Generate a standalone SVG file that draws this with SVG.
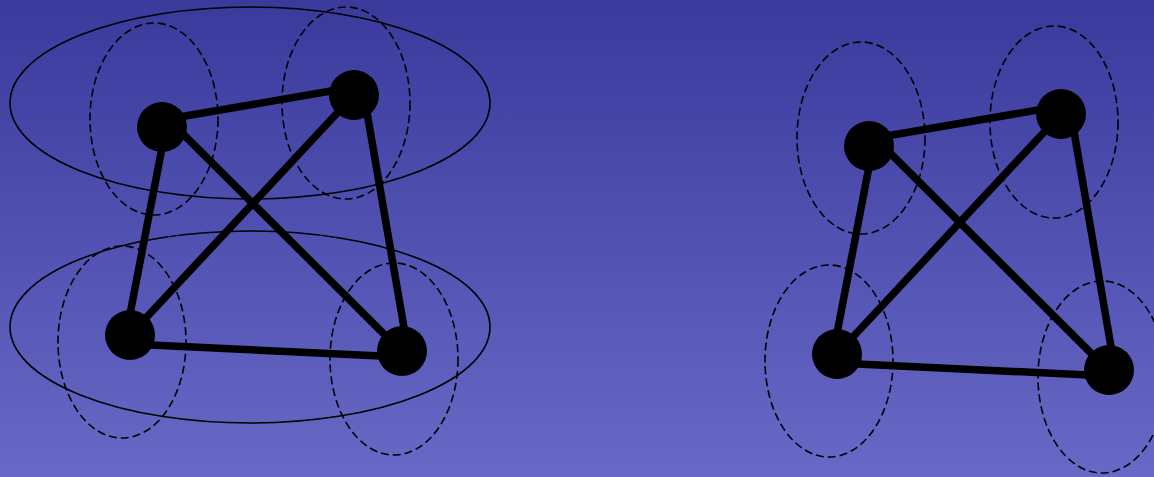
<svg xmlns="http://www.w3.org/2000/svg" width="1154" height="477" viewBox="0 0 1154 477">
<defs>
<linearGradient id="bg" x1="0" y1="0" x2="0" y2="1">
<stop offset="0" stop-color="#3a3a9d"/>
<stop offset="1" stop-color="#6868c6"/>
</linearGradient>
<style>
.grp{fill:none;stroke:#000;stroke-width:1.6}
.cl{fill:none;stroke:#000;stroke-width:1.6;stroke-dasharray:8,4}
.e{stroke:#000;stroke-width:7.5}
.n{fill:#000}
</style>
</defs>
<rect width="1154" height="477" fill="url(#bg)"/>
<g id="groups">
<ellipse class="grp" cx="250" cy="103" rx="240" ry="96"/>
<ellipse class="grp" cx="250" cy="327" rx="240" ry="96"/>
</g>
<g id="clusters">
<ellipse class="cl" cx="154" cy="119" rx="64" ry="96"/>
<ellipse class="cl" cx="346" cy="103" rx="64" ry="96"/>
<ellipse class="cl" cx="122" cy="342" rx="64" ry="96"/>
<ellipse class="cl" cx="394" cy="359" rx="64" ry="96"/>
<ellipse class="cl" cx="861" cy="138" rx="64" ry="96"/>
<ellipse class="cl" cx="1054" cy="122" rx="64" ry="96"/>
<ellipse class="cl" cx="829" cy="361" rx="64" ry="96"/>
<ellipse class="cl" cx="1102" cy="377" rx="64" ry="96"/>
</g>
<g id="connectors">
<line class="e" x1="162" y1="120" x2="354" y2="87"/>
<line class="e" x1="166" y1="127" x2="126" y2="335"/>
<line class="e" x1="162" y1="113" x2="402" y2="352"/>
<line class="e" x1="354" y1="95" x2="130" y2="335"/>
<line class="e" x1="364" y1="95" x2="408" y2="351"/>
<line class="e" x1="130" y1="344" x2="402" y2="357"/>
<line class="e" x1="869" y1="139" x2="1061" y2="106"/>
<line class="e" x1="873" y1="146" x2="833" y2="354"/>
<line class="e" x1="869" y1="132" x2="1109" y2="371"/>
<line class="e" x1="1061" y1="114" x2="837" y2="354"/>
<line class="e" x1="1071" y1="114" x2="1115" y2="370"/>
<line class="e" x1="837" y1="363" x2="1109" y2="376"/>
</g>
<g id="nodeA"><circle class="n" cx="162" cy="127" r="25"/></g>
<g id="nodeB"><circle class="n" cx="354" cy="95" r="25"/></g>
<g id="nodeC"><circle class="n" cx="130" cy="335" r="25"/></g>
<g id="nodeD"><circle class="n" cx="402" cy="351" r="25"/></g>
<g id="nodeE"><circle class="n" cx="869" cy="146" r="25"/></g>
<g id="nodeF"><circle class="n" cx="1061" cy="114" r="25"/></g>
<g id="nodeG"><circle class="n" cx="837" cy="354" r="25"/></g>
<g id="nodeH"><circle class="n" cx="1109" cy="370" r="25"/></g>
</svg>
